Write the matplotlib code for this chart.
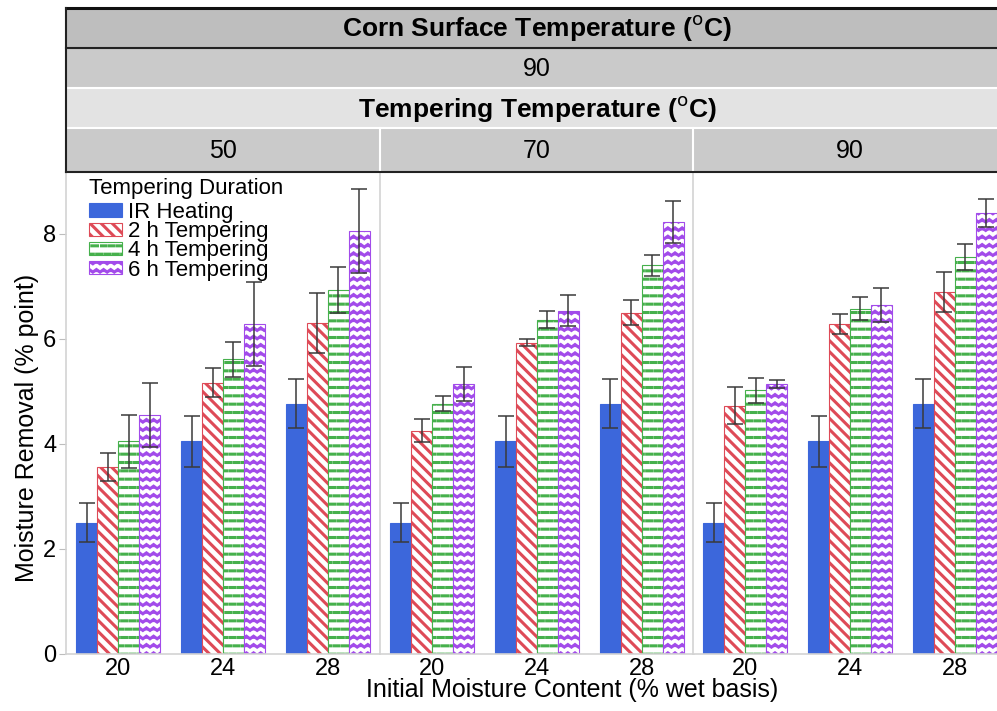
import warnings
import numpy as np
import matplotlib
matplotlib.use('Agg')
import matplotlib.pyplot as plt
from matplotlib import hatch as mhatch
from matplotlib.path import Path
from matplotlib.patches import Rectangle, Patch
from matplotlib.lines import Line2D

warnings.filterwarnings('ignore')

# data
moisture = ['20', '24', '28']
temper_temps = ['50', '70', '90']
series = ['IR Heating', '2 h Tempering', '4 h Tempering', '6 h Tempering']

# IR heating is the same in every tempering panel
ir_mean = [2.50, 4.05, 4.77]
ir_err = [0.37, 0.48, 0.46]

# rows = tempering temperature 50 / 70 / 90, columns = moisture 20 / 24 / 28
h2_mean = [[3.56, 5.17, 6.30], [4.25, 5.93, 6.50], [4.73, 6.29, 6.90]]
h2_err = [[0.26, 0.28, 0.57], [0.22, 0.06, 0.24], [0.35, 0.19, 0.38]]
h4_mean = [[4.05, 5.61, 6.93], [4.77, 6.37, 7.40], [5.02, 6.58, 7.56]]
h4_err = [[0.50, 0.33, 0.44], [0.14, 0.16, 0.20], [0.24, 0.22, 0.25]]
h6_mean = [[4.56, 6.29, 8.06], [5.14, 6.54, 8.22], [5.14, 6.65, 8.40]]
h6_err = [[0.61, 0.80, 0.80], [0.32, 0.29, 0.40], [0.07, 0.32, 0.27]]

blue = '#3C67DB'
red = '#DE4A57'
green = '#46B04C'
purple = '#A24BEA'


# extra hatch patterns: 'd' = dashed rows, 'z' = zigzag rows
class DashRows(mhatch.HatchPatternBase):
    def __init__(self, hatch, density):
        n_rows = int(hatch.count('d') * density)
        n_dash = 12
        p = 1.0 / n_dash
        self.segs = []
        for r in range(n_rows):
            y = (r + 0.5) / n_rows
            off = (0.1 if r % 2 == 0 else 0.6) * p
            for d in range(n_dash):
                x0 = d * p + off
                x1 = x0 + 0.6 * p
                if x1 <= 1.0:
                    self.segs.append((x0, x1, y))
                else:
                    self.segs.append((x0, 1.0, y))
                    self.segs.append((0.0, x1 - 1.0, y))
        self.num_vertices = 2 * len(self.segs)

    def set_vertices_and_codes(self, vertices, codes):
        for i, (x0, x1, y) in enumerate(self.segs):
            vertices[2 * i] = (x0, y)
            vertices[2 * i + 1] = (x1, y)
            codes[2 * i] = Path.MOVETO
            codes[2 * i + 1] = Path.LINETO


class ZigZag(mhatch.HatchPatternBase):
    def __init__(self, hatch, density):
        self.num_rows = int(hatch.count('z') * density)
        self.n = 2 * 14 + 1
        self.num_vertices = self.num_rows * self.n

    def set_vertices_and_codes(self, vertices, codes):
        xs = np.linspace(0, 1, self.n)
        zig = np.where(np.arange(self.n) % 2 == 0, -0.013, 0.013)
        for r in range(self.num_rows):
            y = (r + 0.5) / self.num_rows
            a, b = r * self.n, (r + 1) * self.n
            vertices[a:b, 0] = xs
            vertices[a:b, 1] = y + zig
            codes[a] = Path.MOVETO
            codes[a + 1:b] = Path.LINETO


mhatch._hatch_types.append(DashRows)
mhatch._hatch_types.append(ZigZag)

plt.rcParams['font.family'] = ['Liberation Sans', 'DejaVu Sans']
plt.rcParams['hatch.linewidth'] = 2.2

W, H = 997, 711
fig = plt.figure(figsize=(W / 100, H / 100), dpi=100)


def fx(px):
    return px / W


def fy(px):
    return 1 - px / H


red_hatch = '\\\\\\'

# panels
panel_left = [66, 380, 693]
panel_w = 314
ax_top, ax_bot = 172, 654
axes = []
for k, tt in enumerate(temper_temps):
    ax = fig.add_axes([fx(panel_left[k]), fy(ax_bot), fx(panel_w), (ax_bot - ax_top) / H])
    axes.append(ax)
    x = np.arange(len(moisture))
    w = 0.2
    styles = [
        (ir_mean, ir_err, dict(color=blue, edgecolor=blue)),
        (h2_mean[k], h2_err[k], dict(color='white', edgecolor=red, hatch=red_hatch)),
        (h4_mean[k], h4_err[k], dict(color='white', edgecolor=green, hatch='dd')),
        (h6_mean[k], h6_err[k], dict(color='white', edgecolor=purple, hatch='zz')),
    ]
    for i, (m, e, st) in enumerate(styles):
        xi = x + (i - 1.5) * w
        ax.bar(xi, m, width=w, linewidth=0.8, **st)
        ax.errorbar(xi, m, yerr=e, fmt='none', ecolor='#3A3A3A',
                    elinewidth=1.1, capsize=5.5, capthick=1.1)
    ax.set_xlim(-0.5, 2.5)
    ax.set_ylim(0, 9.18)
    ax.set_xticks(x)
    ax.set_xticklabels(moisture)
    ax.set_yticks([0, 2, 4, 6, 8])
    for s in ['top', 'right']:
        ax.spines[s].set_visible(False)
    for s in ['left', 'bottom']:
        ax.spines[s].set_color('#D3D3D3')
        ax.spines[s].set_linewidth(1.2)
    ax.tick_params(axis='x', length=0, labelsize=17, pad=3)
    if k == 0:
        ax.tick_params(axis='y', length=5, color='#BDBDBD', labelsize=17, pad=2)
    else:
        ax.tick_params(axis='y', length=0, labelleft=False)

# legend
handles = [
    Patch(facecolor=blue, edgecolor=blue, linewidth=0.8),
    Patch(facecolor='white', edgecolor=red, hatch=red_hatch, linewidth=0.8),
    Patch(facecolor='white', edgecolor=green, hatch='dd', linewidth=0.8),
    Patch(facecolor='white', edgecolor=purple, hatch='zz', linewidth=0.8),
]
leg = axes[0].legend(handles, series, title='Tempering Duration', loc='upper left',
                     bbox_to_anchor=(0.065, 0.992), frameon=False, fontsize=16,
                     title_fontsize=16, alignment='left', handlelength=1.5,
                     handleheight=0.55, handletextpad=0.25, labelspacing=-0.08,
                     borderpad=0.1, borderaxespad=0.0)
leg._legend_box.sep = 2

# strip header
strip_x0 = 66
rows = [(8, 48, '#BEBEBE'), (48, 88, '#CACACA'), (88, 128, '#E3E3E3'), (128, 172, '#CACACA')]
for y0, y1, c in rows:
    fig.add_artist(Rectangle((fx(strip_x0), fy(y1)), fx(W - strip_x0 + 20), (y1 - y0) / H,
                             transform=fig.transFigure, facecolor=c, edgecolor='none'))
for yy in [88, 128]:
    fig.add_artist(Line2D([fx(strip_x0), 1.01], [fy(yy), fy(yy)], transform=fig.transFigure,
                          color='white', lw=1.5))
for k in [1, 2]:
    xx = panel_left[k]
    fig.add_artist(Line2D([fx(xx), fx(xx)], [fy(128), fy(172)], transform=fig.transFigure,
                          color='white', lw=1.5))
fig.add_artist(Line2D([fx(strip_x0), 1.01], [fy(8), fy(8)], transform=fig.transFigure,
                      color='#111111', lw=2.2))
for yy in [48, 172]:
    fig.add_artist(Line2D([fx(strip_x0), 1.01], [fy(yy), fy(yy)], transform=fig.transFigure,
                          color='#222222', lw=1.5))
fig.add_artist(Line2D([fx(strip_x0), fx(strip_x0)], [fy(8), fy(172)], transform=fig.transFigure,
                      color='#222222', lw=1.5))

mid = fx(537)
fig.text(mid, fy(28), r'Corn Surface Temperature ($^{\mathrm{o}}$C)', ha='center', va='center',
         fontsize=19, fontweight='bold')
fig.text(mid, fy(69), '90', ha='center', va='center', fontsize=18)
fig.text(mid, fy(109), r'Tempering Temperature ($^{\mathrm{o}}$C)', ha='center', va='center',
         fontsize=19, fontweight='bold')
for k, tt in enumerate(temper_temps):
    pos = axes[k].get_position()
    fig.text((pos.x0 + pos.x1) / 2, fy(151), tt, ha='center', va='center', fontsize=18)

fig.text(fx(27), fy(428), 'Moisture Removal (% point)', rotation=90, ha='center', va='center',
         fontsize=18)
fig.text(fx(572), fy(690), 'Initial Moisture Content (% wet basis)', ha='center', va='center',
         fontsize=18)

fig.savefig('out.png', dpi=100)
